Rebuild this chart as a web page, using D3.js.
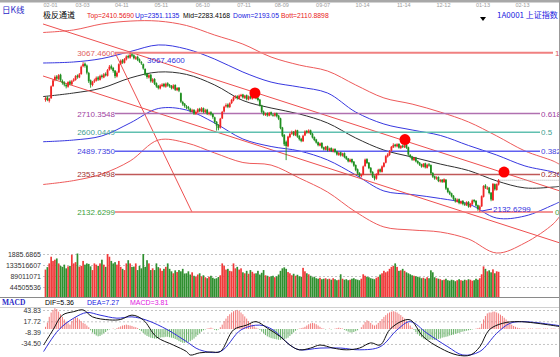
<!DOCTYPE html>
<html><head><meta charset="utf-8">
<script src="https://cdn.jsdelivr.net/npm/d3@7/dist/d3.min.js"></script>
<style>html,body{margin:0;padding:0;background:#fff;overflow:hidden}svg{display:block}</style>
</head><body><svg id="c" width="560" height="357"></svg>
<script>
const dates = ["02-01","03-03","04-11","05-11","06-10","07-11","08-09","09-07","10-14","11-14","12-12","01-13","02-13"];
const dateIdx = [0,17,38,59,81,103,123,145,166,188,209,230,251];

const closes = [2800,2790,2798,2870,2905,2925,2915,2935,2905,2890,
2880,2870,2895,2885,2900,2910,2930,2925,2940,2985,
3000,2990,2950,2900,2880,2895,2905,2920,2910,2930,
2925,2940,2935,2965,2985,2975,2960,2930,2950,3000,
3020,3010,3030,3045,3040,3055,3050,3035,3040,3025,
3015,3005,2975,2940,2925,2935,2900,2910,2885,2870,
2860,2875,2880,2870,2885,2875,2870,2860,2875,2850,
2860,2845,2780,2765,2755,2745,2740,2725,2730,2710,
2720,2735,2725,2740,2720,2730,2710,2715,2705,2690,
2660,2640,2625,2680,2720,2750,2760,2750,2770,2790,
2805,2810,2800,2815,2820,2805,2815,2795,2810,2800,
2815,2825,2800,2790,2760,2720,2705,2710,2700,2715,
2705,2700,2710,2695,2680,2625,2580,2530,2520,2575,
2590,2600,2585,2610,2575,2560,2550,2580,2605,2600,
2610,2590,2570,2555,2540,2525,2535,2510,2500,2515,
2495,2505,2490,2500,2485,2470,2480,2465,2475,2455,
2445,2430,2440,2425,2405,2380,2360,2345,2350,2400,
2440,2420,2390,2365,2340,2330,2355,2380,2370,2400,
2420,2460,2470,2490,2515,2525,2520,2530,2510,2520,
2515,2525,2510,2470,2455,2440,2450,2430,2420,2410,
2400,2415,2395,2410,2405,2360,2340,2330,2335,2315,
2320,2310,2325,2270,2250,2240,2225,2210,2195,2205,
2185,2195,2180,2175,2190,2165,2180,2200,2195,2170,
2150,2165,2225,2285,2276,2275,2244,2206,2298,2266,
2296,2319];
const opens = [2790,2805,2785,2800,2872,2908,2928,2912,2938,2902,
2892,2878,2868,2898,2882,2903,2908,2933,2922,2942,
2988,3003,2992,2948,2905,2878,2898,2903,2922,2908,
2933,2922,2943,2932,2968,2988,2978,2962,2928,2952,
3002,3023,3008,3028,3048,3038,3058,3052,3032,3043,
3028,3012,3000,2972,2945,2922,2938,2898,2913,2888,
2873,2858,2872,2884,2868,2888,2878,2872,2858,2878,
2848,2862,2830,2778,2768,2752,2748,2738,2722,2732,
2708,2718,2738,2722,2742,2718,2733,2708,2718,2708,
2688,2662,2642,2628,2682,2722,2752,2763,2748,2772,
2788,2806,2812,2798,2813,2822,2802,2818,2793,2812,
2798,2813,2828,2802,2792,2758,2722,2702,2712,2698,
2718,2703,2698,2712,2698,2682,2628,2585,2545,2518,
2572,2592,2603,2583,2612,2578,2562,2548,2582,2608,
2598,2612,2592,2572,2558,2542,2522,2538,2512,2498,
2518,2493,2508,2488,2503,2488,2468,2483,2463,2478,
2458,2447,2428,2443,2428,2408,2383,2362,2342,2352,
2402,2443,2422,2392,2368,2342,2328,2352,2383,2368,
2398,2422,2458,2468,2492,2512,2528,2518,2532,2508,
2522,2512,2528,2512,2468,2457,2438,2452,2432,2422,
2412,2398,2418,2392,2412,2408,2362,2342,2328,2338,
2312,2322,2308,2322,2272,2252,2242,2228,2212,2192,
2208,2183,2198,2182,2172,2192,2162,2178,2203,2198,
2172,2148,2166,2222,2288,2272,2276,2246,2202,2296,
2262,2294];
const highs = [2808,2812,2803,2875,2912,2934,2936,2942,2944,2910,
2900,2885,2900,2905,2908,2918,2936,2940,2948,2992,
3012,3010,2998,2955,2910,2902,2915,2928,2930,2938,
2940,2948,2952,2972,2995,2998,2984,2966,2958,3005,
3028,3030,3036,3052,3056,3067.46,3064,3058,3048,3050,
3034,3018,3004,2976,2950,2942,2942,2918,2918,2893,
2878,2882,2888,2890,2892,2894,2884,2878,2882,2882,
2866,2866,2834,2785,2772,2760,2755,2744,2738,2736,
2728,2742,2744,2748,2746,2738,2738,2722,2724,2712,
2692,2666,2648,2685,2726,2756,2770,2770,2776,2796,
2812,2818,2818,2822,2826,2826,2820,2822,2816,2818,
2820,2832,2832,2808,2796,2762,2728,2716,2718,2720,
2722,2710,2716,2716,2702,2686,2632,2590,2552,2580,
2598,2610,2608,2616,2615,2584,2568,2586,2612,2614,
2618,2616,2596,2576,2562,2546,2540,2542,2516,2520,
2522,2510,2512,2506,2506,2492,2486,2486,2480,2482,
2462,2450,2446,2446,2432,2412,2388,2366,2358,2405,
2446,2448,2426,2396,2372,2348,2360,2386,2388,2406,
2426,2466,2478,2496,2520,2536,2533,2536,2536,2526,
2528,2530,2532,2516,2472,2462,2456,2456,2436,2426,
2416,2420,2422,2416,2420,2412,2366,2346,2342,2342,
2326,2326,2330,2326,2276,2258,2246,2232,2216,2212,
2212,2200,2202,2188,2196,2196,2186,2206,2208,2202,
2176,2172,2230,2290,2296,2284,2280,2250,2302,2300,
2300,2326];
const lows = [2780,2783,2775,2797,2866,2900,2905,2908,2898,2880,
2870,2858,2862,2876,2878,2896,2903,2915,2918,2938,
2982,2980,2940,2890,2862,2870,2890,2898,2902,2904,
2916,2918,2928,2928,2962,2968,2950,2918,2922,2948,
2996,3002,3004,3022,3033,3032,3042,3028,3026,3018,
3008,2996,2968,2932,2915,2916,2892,2890,2878,2862,
2852,2852,2866,2864,2862,2868,2862,2852,2853,2843,
2842,2836,2772,2756,2745,2736,2732,2716,2716,2702,
2702,2714,2718,2718,2712,2712,2702,2700,2698,2680,
2650,2610,2612,2622,2678,2716,2745,2742,2744,2766,
2782,2798,2792,2792,2806,2798,2796,2788,2788,2794,
2792,2808,2794,2782,2752,2712,2698,2696,2692,2694,
2698,2692,2692,2688,2672,2618,2572,2520,2437,2512,
2566,2586,2578,2578,2568,2552,2542,2544,2578,2592,
2594,2584,2564,2548,2534,2518,2518,2504,2494,2494,
2488,2488,2484,2482,2478,2464,2462,2458,2458,2448,
2438,2424,2424,2418,2398,2372,2352,2336,2335,2348,
2398,2414,2384,2358,2332,2318,2322,2348,2364,2364,
2394,2418,2452,2462,2488,2508,2512,2512,2504,2502,
2508,2508,2503,2462,2448,2433,2432,2424,2413,2403,
2393,2394,2388,2388,2398,2352,2333,2322,2322,2308,
2306,2303,2304,2262,2243,2232,2218,2202,2188,2188,
2178,2178,2172,2168,2168,2158,2158,2174,2188,2163,
2140,2132.63,2162,2218,2268,2262,2236,2196,2198,2258,
2258,2288];
const volumesM = [115,125,140,167,150,155,160,140,130,126,
135,120,128,130,175,140,145,180,127,130,
150,135,140,138,128,113,140,135,130,140,
155,135,126,178,167,150,140,145,135,150,
126,118,113,140,153,140,126,127,140,113,
130,120,178,126,153,140,113,120,113,140,
125,120,110,118,126,140,118,108,100,112,
105,113,108,118,99,100,108,95,104,90,
86,95,100,88,92,84,80,86,90,82,
78,80,85,92,140,130,115,118,110,108,
140,120,126,115,120,104,100,110,98,113,
106,99,100,110,95,102,113,92,90,86,
88,90,84,88,95,110,120,124,118,105,
100,92,98,90,94,88,86,122,108,100,
96,90,84,86,80,78,82,76,78,80,
76,78,74,80,76,72,74,96,78,74,
76,72,74,78,80,76,74,72,78,96,
90,86,84,80,78,76,82,86,95,100,
110,104,108,118,126,130,140,126,110,112,
118,110,104,100,96,92,90,88,86,84,
80,82,78,84,80,112,104,84,80,78,
76,72,74,78,72,70,74,72,68,72,
76,72,70,74,72,76,74,70,72,78,
74,80,96,128,118,108,112,104,116,100,
108,106];

// channel bands (sampled along the index axis)
const bandIdx   = [-1.3,15,30,45,60,75,90,105,120,135,150,165,180,195,210,225,240,255,270,273.7];
const outerTop  = [3186,3201,3236,3253,3253,3227,3171,3118,3042,2995,2960,2878,2802,2766,2719,2661,2579,2491,2432,2410.569];
const upperBand = [3007,3013,3033,3074,3113,3089,3030,2954,2895,2866,2831,2719,2649,2614,2582,2523,2467,2403,2367,2351.1135];
const midBand   = [2810,2831,2860,2919,2954,2940,2878,2787,2743,2708,2655,2567,2496,2455,2414,2376,2315,2274,2279,2283.4168];
const lowerBand = [2545,2555,2579,2655,2740,2731,2655,2561,2517,2491,2438,2350,2256,2235,2212,2180,2097,2109,2174,2193.05];
const outerBot  = [2294,2317,2356,2432,2555,2538,2479,2423,2408,2332,2250,2133,2045,2027,2015,1974,1892,1951,2062,2110.8898];

const chan1Idx = [-1.3,273.7], chan1Val = [3235.9,2255.9];
const chan2Idx = [-1.3,273.7], chan2Val = [2930.7,1950.8];
const steepIdx = [37,77.9], steepVal = [3067.46,2132.6299];

const fibValues = [3067.46,2710.3548,2600.0449,2489.735,2353.2498,2132.6299];
const fibLabels = ["3067.4600","2710.3548","2600.0449","2489.7350","2353.2498","2132.6299"];
const fibRatios = ["1","0.618","0.5","0.382","0.236","0"];

const dotIdx = [111.4,191.2,243.9], dotVal = [2831,2558,2367];

const volTickVals = [178.022142,133.516607,89.011071,44.505536];
const volTickLabels = ["1885.6865","133516607","89011071","44505536"];
const macdTicks = [43.83,17.72,-8.39,-34.50];
const macdTickLabels = ["43.83","17.72","-8.39","-34.50"];

const macdHist = [5,15,28,38,44,48,46,40,34,28,
22,17,13,10,18,24,27,26,22,18,
14,12,8,4,-3,-8,-12,-15,-17,-16,
-13,-10,-7,-3,-1,0,1,-1,2,4,
6,8,9,10,9,8,7,5,4,2,
-2,-5,-9,-13,-16,-18,-20,-21,-22,-22,
-21,-20,-19,-19,-18,-18,-19,-20,-21,-23,
-25,-28,-30,-32,-32,-31,-30,-28,-25,-22,
-18,-14,-10,-6,-3,-1,1,2,3,1,
-2,-3,-1,4,10,18,24,30,34,38,
41,43,44,42,38,34,29,24,18,14,
10,6,3,1,-2,-6,-10,-14,-17,-19,
-21,-22,-23,-24,-25,-25,-24,-23,-22,-20,
-16,-12,-8,-4,-1,1,2,3,5,8,
11,13,14,13,11,8,5,2,1,-1,
0,1,-1,0,1,2,3,2,1,-2,
-4,-6,-8,-8,-7,-5,-3,0,4,10,
16,20,18,14,10,8,10,14,18,23,
28,32,36,38,40,41,40,38,35,32,
28,24,19,14,8,3,-2,-7,-12,-16,
-19,-22,-24,-25,-25,-24,-25,-25,-24,-23,
-22,-20,-19,-18,-17,-15,-14,-13,-11,-10,
-9,-7,-6,-5,-4,-3,-2,-1,0,1,
2,3,12,22,30,36,38,38,40,40,
38,36,33,30,26,22,18,14,10,7,
5,3,2,1,1,1,0,1,1,1,
0,1,1,1,0,1,1,1,0,1,
1,1,0,1];
const difIdx = [-1,4,9,15,20,25,34,40,46,52,59,68,75,77,82,88,93,100,107,112,118,125,130,135,141,146,153,160,167,173,178,183,189,194,201,210,219,226,231,236,243,252,274];
const difVals = [-37,-2,32,40,44,28,21,22,32,21,-18,-37,-52,-60,-55,-53,-52,-2,9,17,2,-18,-37,-48,-44,-37,-44,-48,-44,-32,-37,-2,17,21,-18,-44,-60,-60,-41,-2,13,17,5.36];
const deaIdx = [-1,7,15,22,29,38,46,54,65,75,82,93,104,114,121,130,135,146,157,167,178,187,194,203,214,222,231,240,247,254,274];
const deaVals = [-52,-2,25,38,32,25,28,20,-2,-29,-48,-52,-2,9,-2,-37,-48,-44,-44,-48,-41,-2,17,-10,-41,-60,-52,-10,13,17,7.27];

const FONT = "'Liberation Sans', Arial, sans-serif";
const CJK = "'Noto Sans CJK SC', sans-serif";

const svg = d3.select('#c');
const x  = d3.scaleLinear().domain([0,100]).range([45.5,233.5]);
const y  = d3.scaleLinear().domain([2132.6299,3067.46]).range([212,52.7]);
const yv = d3.scaleLinear().domain([0,44.505536]).range([298,287]);
const ym = d3.scaleLinear().domain([0,43.83]).range([329,310]);

svg.append('rect').attr('width',560).attr('height',357).attr('fill','#fff');

// date axis at top (partially clipped)
svg.append('g').selectAll('text').data(dates).join('text')
  .attr('x',(d,i)=>x(dateIdx[i])-2).attr('y',7)
  .attr('font-family',FONT).attr('font-size',5.5).attr('fill','#9a9a9a').text(d=>d);
svg.append('rect').attr('x',0).attr('y',0).attr('width',560).attr('height',2.5).attr('fill','#a8a8a8');

// header
svg.append('text').attr('x',2).attr('y',12.5).attr('font-family',CJK).attr('font-size',8.5).attr('fill','#2a2ac8').text('日K线');
svg.append('text').attr('x',43).attr('y',18).attr('font-family',CJK).attr('font-size',8).attr('fill','#000').text('极反通道');
const hdr = [["Top=2410.5690",87,'#e82020'],["Up=2351.1135",135,'#2020e0'],["Mid=2283.4168",183,'#000'],["Down=2193.05",233,'#2020e0'],["Bott=2110.8898",281,'#e82020']];
svg.append('g').selectAll('text').data(hdr).join('text')
  .attr('x',d=>d[1]).attr('y',17.5).attr('font-family',FONT).attr('font-size',6.8).attr('fill',d=>d[2]).text(d=>d[0]);
svg.append('text').attr('x',497).attr('y',17.5).attr('font-family',CJK).attr('font-size',8).attr('fill','#2020e0').text('1A0001 上证指数');
svg.append('path').attr('d','M480,17 L486,17 L483,21 Z').attr('fill','#000');

// bands
const bandLine = d3.line().x(d=>x(d[0])).y(d=>y(d[1])).curve(d3.curveCatmullRom);
const bands = [[outerTop,'#ee5a5a'],[upperBand,'#3838e0'],[midBand,'#303030'],[lowerBand,'#3838e0'],[outerBot,'#ee5a5a']];
bands.forEach(([vals,col])=>{
  svg.append('path').attr('d',bandLine(bandIdx.map((b,i)=>[b,vals[i]]))).attr('fill','none').attr('stroke',col).attr('stroke-width',1);
});
const straight = d3.line().x(d=>x(d[0])).y(d=>y(d[1]));
[[chan1Idx,chan1Val],[chan2Idx,chan2Val],[steepIdx,steepVal]].forEach(([ii,vv])=>{
  svg.append('path').attr('d',straight(ii.map((b,i)=>[b,vv[i]]))).attr('fill','none').attr('stroke','#ee5050').attr('stroke-width',1);
});

// fib lines
const fibLine = ['#f08080','#b070b0','#60c0b0','#6060f0','#c05858','#f07070'];
const fibText = ['#e06060','#a040a0','#40a090','#4040e0','#a03030','#40a040'];
const fibEnd = [553,540,540,540,540,553];
const fibRX = [555,541,541,541,541,555];
const gf = svg.append('g');
fibValues.forEach((v,k)=>{
  gf.append('line').attr('x1',115).attr('x2',fibEnd[k]).attr('y1',y(v)).attr('y2',y(v))
    .attr('stroke',fibLine[k]).attr('stroke-width',k===0?2:1.5);
  gf.append('text').attr('x',115).attr('y',y(v)+3).attr('text-anchor','end')
    .attr('font-family',FONT).attr('font-size',8).attr('fill',fibText[k]).text(fibLabels[k]);
  gf.append('text').attr('x',fibRX[k]).attr('y',y(v)+3)
    .attr('font-family',FONT).attr('font-size',8).attr('fill',fibText[k]).text(fibRatios[k]);
});

// last close dotted line
svg.append('line').attr('x1',x(241)+1).attr('x2',560).attr('y1',y(closes[closes.length-1])).attr('y2',y(closes[closes.length-1]))
  .attr('stroke','#aaa').attr('stroke-dasharray','1,1');

// candles
const UP='#f02424', DN='#1f8f1f';
const gc = svg.append('g');
closes.forEach((c,i)=>{
  const o=opens[i], col = c>=o?UP:DN, xi=x(i);
  gc.append('line').attr('x1',xi).attr('x2',xi).attr('y1',y(highs[i])).attr('y2',y(lows[i])).attr('stroke',col).attr('stroke-width',0.9);
  const top=y(Math.max(o,c)), bot=y(Math.min(o,c));
  gc.append('rect').attr('x',xi-0.9).attr('width',1.8).attr('y',top).attr('height',Math.max(0.9,bot-top)).attr('fill',col);
});

// annotations
svg.append('text').attr('x',147).attr('y',63).attr('font-family',FONT).attr('font-size',8).attr('fill','#3030e0').text('3067.4600');
svg.append('line').attr('x1',x(231)+2).attr('x2',492).attr('y1',y(2132.6299)-1).attr('y2',209).attr('stroke','#3030e0');
svg.append('text').attr('x',493).attr('y',211.5).attr('font-family',FONT).attr('font-size',8).attr('fill','#3030e0').text('2132.6299');

// dots
svg.append('g').selectAll('circle').data(dotIdx).join('circle')
  .attr('cx',d=>x(d)).attr('cy',(d,i)=>y(dotVal[i])).attr('r',5.5).attr('fill','#ff0000');

// volume panel
const gv = svg.append('g');
volTickVals.forEach((v,k)=>{
  gv.append('line').attr('x1',43).attr('x2',558).attr('y1',yv(v)+0.5).attr('y2',yv(v)+0.5).attr('stroke','#c4c4c4').attr('stroke-dasharray','2,2');
  gv.append('text').attr('x',41).attr('y',yv(v)+2.5).attr('text-anchor','end').attr('font-family',FONT).attr('font-size',7).attr('fill','#333').text(volTickLabels[k]);
});
volumesM.forEach((v,i)=>{
  const col = closes[i]>=opens[i]?'#f03a3a':'#2f8f2f';
  gv.append('rect').attr('x',x(i)-0.85).attr('width',1.7).attr('y',yv(v)).attr('height',yv(0)-yv(v)).attr('fill',col);
});
svg.append('line').attr('x1',0).attr('x2',560).attr('y1',297.5).attr('y2',297.5).attr('stroke','#8a8a8a');
svg.append('line').attr('x1',0).attr('x2',560).attr('y1',307.5).attr('y2',307.5).attr('stroke','#d0d0d0');

// macd header
svg.append('text').attr('x',2).attr('y',305).attr('font-family',"'Liberation Serif', serif").attr('font-weight','bold').attr('font-size',7.5).attr('fill','#2a2ac8').text('MACD');
[["DIF=5.36",45,'#000'],["DEA=7.27",87,'#2020e0'],["MACD=3.81",130,'#e020e0']].forEach(d=>{
  svg.append('text').attr('x',d[1]).attr('y',305).attr('font-family',FONT).attr('font-size',7).attr('fill',d[2]).text(d[0]);
});

// macd panel
const gm = svg.append('g');
macdTicks.forEach((v,k)=>{
  gm.append('line').attr('x1',43).attr('x2',558).attr('y1',ym(v)+0.5).attr('y2',ym(v)+0.5).attr('stroke','#c4c4c4').attr('stroke-dasharray','2,2');
  gm.append('text').attr('x',41).attr('y',ym(v)+2.5).attr('text-anchor','end').attr('font-family',FONT).attr('font-size',7).attr('fill','#333').text(macdTickLabels[k]);
});
macdHist.forEach((v,i)=>{
  gm.append('line').attr('x1',x(i)).attr('x2',x(i)).attr('y1',ym(0)).attr('y2',ym(v))
    .attr('stroke',v>=0?'#f06a6a':'#5aaa5a').attr('stroke-width',0.9);
});
const mline = d3.line().x(d=>x(d[0])).y(d=>ym(d[1])).curve(d3.curveCatmullRom);
gm.append('path').attr('d',mline(deaIdx.map((b,i)=>[b,deaVals[i]]))).attr('fill','none').attr('stroke','#3030d8').attr('stroke-width',1);
gm.append('path').attr('d',mline(difIdx.map((b,i)=>[b,difVals[i]]))).attr('fill','none').attr('stroke','#111').attr('stroke-width',1);

// right border
svg.append('line').attr('x1',559.5).attr('x2',559.5).attr('y1',0).attr('y2',357).attr('stroke','#999');
</script></body></html>
